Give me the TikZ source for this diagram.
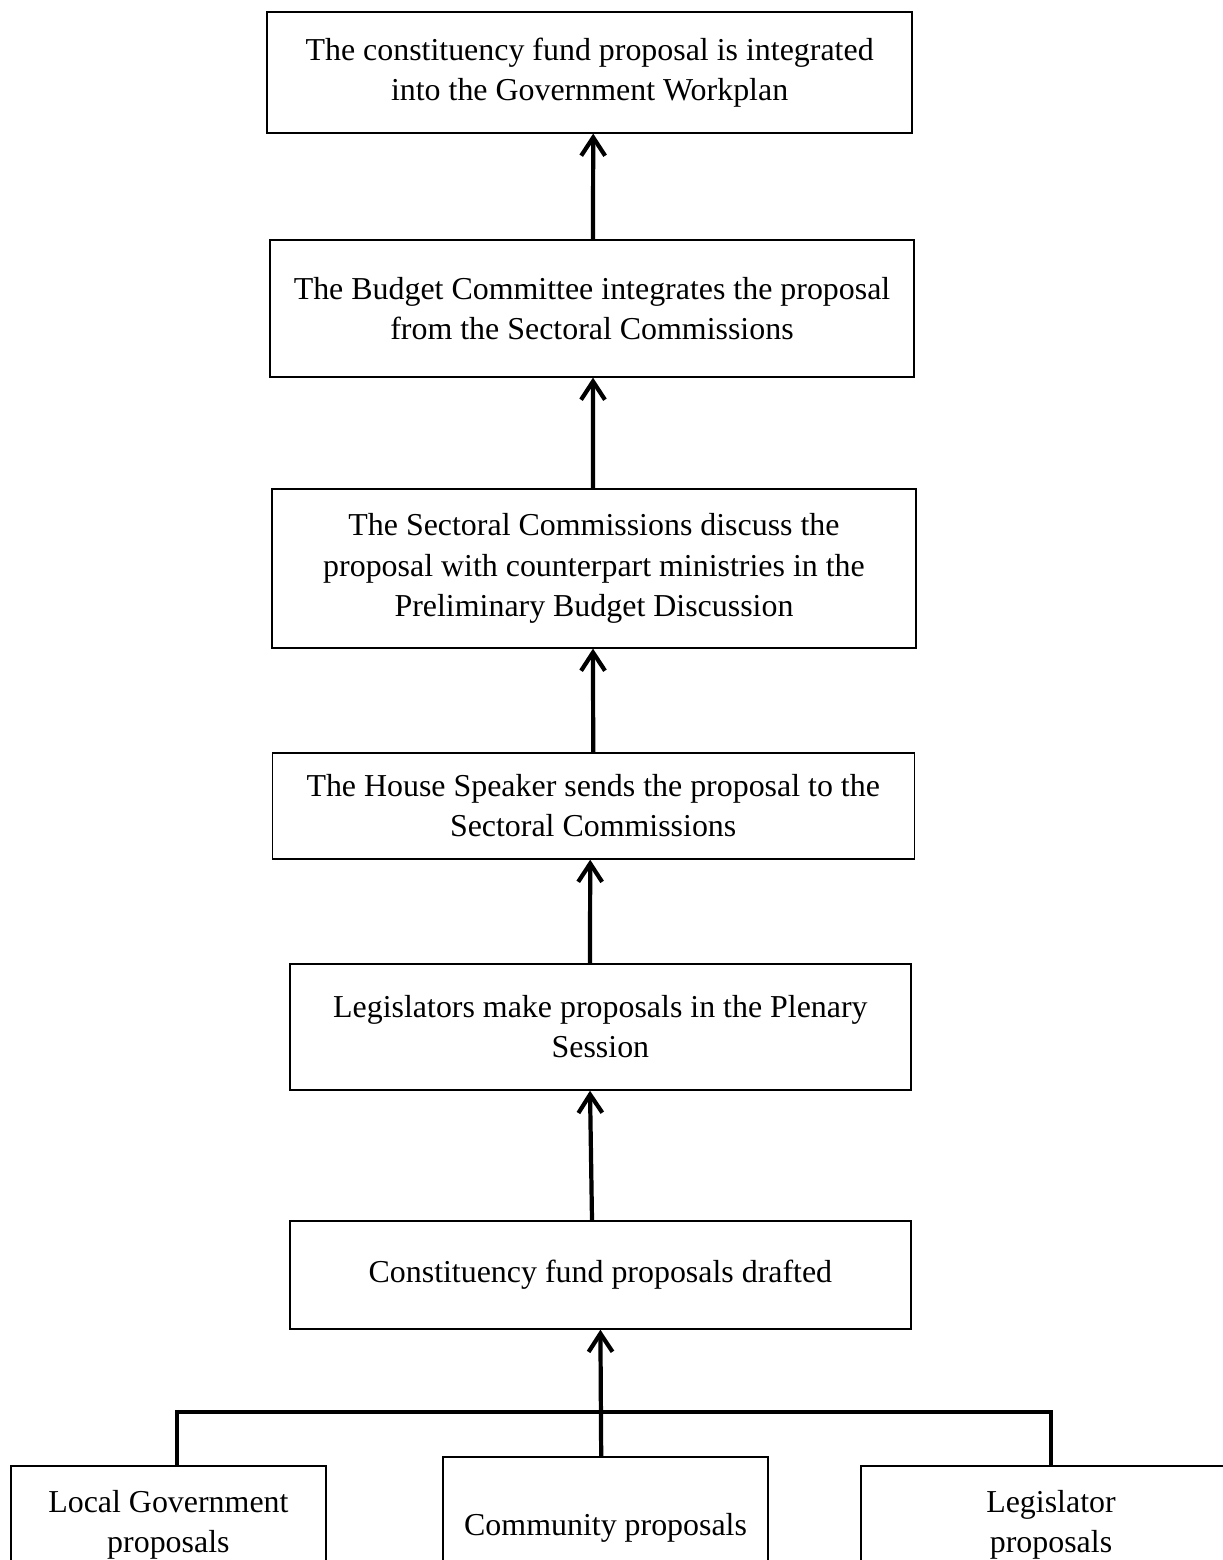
\documentclass[tikz,border=0pt]{standalone}
\usepackage{fontspec}
\setmainfont{Liberation Serif}
\usepackage{tikz}
\usetikzlibrary{arrows.meta,positioning}
\tikzstyle{process} = [draw, line width=1pt, align=center, inner sep=0pt, font=\fontsize{22.7}{28.5}\selectfont]
\tikzstyle{inputdata} = [draw, line width=1pt, align=center, inner sep=0pt, font=\fontsize{22.7}{28.5}\selectfont]
\tikzstyle{arrow} = [draw, line width=3pt, color=black, -{Straight Barb[length=13pt,width=17pt]}]
\tikzstyle{line} = [draw, line width=3pt, color=black]
\newcommand{\process}[4]{node (p#1) [process, minimum width=#2cm, minimum height=#3cm] {#4}}
\newcommand{\inputdata}[4]{node (i#1) [inputdata, minimum width=#2cm, minimum height=#3cm] {#4}}

\begin{document}
\begin{tikzpicture}
\clip (0,0) rectangle (30.575,-39);
\path (14.74,-1.81) \process{1}{16.125}{3.025}{The constituency fund proposal is integrated\\into the Government Workplan};
\path (p1)+(0.06,-5.90) \process{2}{16.1}{3.425}{The Budget Committee integrates the proposal\\from the Sectoral Commissions};
\path (p2)+(0.05,-6.50) \process{3}{16.1}{3.975}{The Sectoral Commissions discuss the\\proposal with counterpart ministries in the\\Preliminary Budget Discussion};
\path (p3)+(-0.02,-5.94) \process{4}{16.05}{2.65}{The House Speaker sends the proposal to the\\Sectoral Commissions};
\path (p4)+(0.18,-5.525) \process{5}{15.525}{3.15}{Legislators make proposals in the Plenary\\Session};
\path (p5)+(0.0,-6.2) \process{6}{15.525}{2.7}{Constituency fund proposals drafted};

% proposal sources
\path (p6)+(0.13,-6.325) \inputdata{2}{8.125}{3.55}{Community proposals};
\path (i2)+(-10.93,0.075) \inputdata{1}{7.875}{2.95}{Local Government\\proposals};
\path (i2)+(11.135,0.075) \inputdata{3}{9.5}{2.95}{Legislator\\proposals};

\path [arrow] ([xshift=0.025cm]p2.north) -- ([xshift=0.09cm]p1.south);
\path [arrow] ([xshift=-0.025cm]p3.north) -- ([xshift=0.025cm]p2.south);
\path [arrow] ([xshift=0cm]p4.north) -- ([xshift=-0.025cm]p3.south);
\path [arrow] ([xshift=-0.26cm]p5.north) -- ([xshift=-0.075cm]p4.south);
\path [arrow] ([xshift=-0.21cm]p6.north) -- ([xshift=-0.26cm]p5.south);
\path [arrow] ([xshift=-0.11cm]i2.north) -- (p6.south);
\path [line] ([xshift=0.21cm]i1.north) -- ++(0,1.325) -| (i3.north);
\end{tikzpicture}
\end{document}
